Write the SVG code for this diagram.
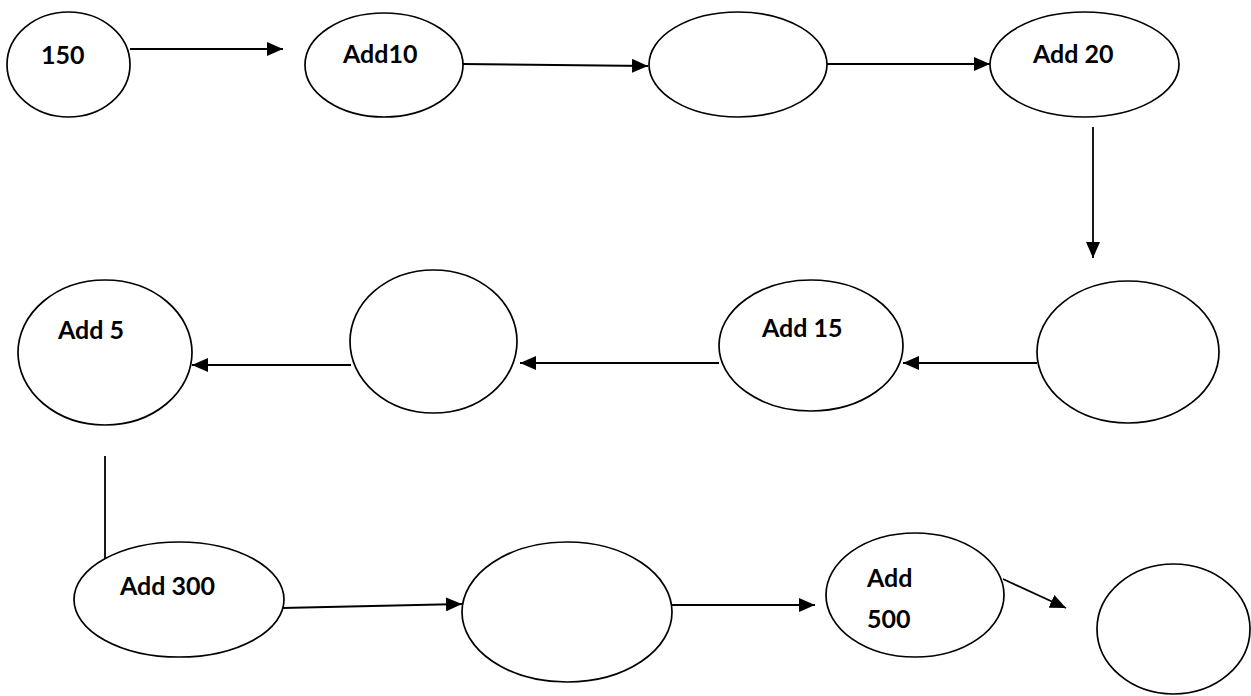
<svg xmlns="http://www.w3.org/2000/svg" width="1251" height="696" viewBox="0 0 1251 696">
<style>
.n{fill:#fff;stroke:#000;stroke-width:1.7}
.t{font-family:Lato,"Liberation Sans",sans-serif;font-weight:bold;font-size:25px;fill:#000}
.c{stroke:#000;stroke-width:1.8;fill:none}
</style>
<defs>
<marker id="ah" viewBox="0 0 16 14" refX="16" refY="7" markerWidth="16" markerHeight="14" markerUnits="userSpaceOnUse" orient="auto">
<path d="M0,0 L16,7 L0,14 Z" fill="#000"/>
</marker>
</defs>
<rect width="1251" height="696" fill="#fff"/>
<g id="connectors">
<line class="c" x1="130" y1="49" x2="283" y2="49" marker-end="url(#ah)"/>
<line class="c" x1="462" y1="64" x2="648" y2="66" marker-end="url(#ah)"/>
<line class="c" x1="827" y1="64" x2="990" y2="64" marker-end="url(#ah)"/>
<line class="c" x1="1093" y1="127" x2="1093" y2="258" marker-end="url(#ah)"/>
<line class="c" x1="1037" y1="363" x2="903" y2="363" marker-end="url(#ah)"/>
<line class="c" x1="719" y1="363" x2="520" y2="363" marker-end="url(#ah)"/>
<line class="c" x1="351" y1="365" x2="192" y2="365" marker-end="url(#ah)"/>
<line class="c" x1="105" y1="456" x2="105" y2="560"/>
<line class="c" x1="282" y1="608" x2="462" y2="604" marker-end="url(#ah)"/>
<line class="c" x1="672" y1="605" x2="815" y2="605" marker-end="url(#ah)"/>
<line class="c" x1="1003" y1="579" x2="1066" y2="608" marker-end="url(#ah)"/>
</g>
<g id="n150"><ellipse class="n" cx="68.5" cy="64.5" rx="61.5" ry="52.5"/><text class="t" x="41" y="64">150</text></g>
<g id="nAdd10"><ellipse class="n" cx="384" cy="65" rx="79" ry="52"/><text class="t" x="343" y="63">Add10</text></g>
<g id="nE1"><ellipse class="n" cx="738" cy="64.5" rx="89" ry="52.5"/></g>
<g id="nAdd20"><ellipse class="n" cx="1084.5" cy="64.5" rx="94.5" ry="52.5"/><text class="t" x="1033" y="63">Add 20</text></g>
<g id="nE2"><ellipse class="n" cx="1128" cy="352" rx="91" ry="71"/></g>
<g id="nAdd15"><ellipse class="n" cx="811" cy="345.5" rx="92" ry="65.5"/><text class="t" x="762" y="337">Add 15</text></g>
<g id="nE3"><ellipse class="n" cx="433.5" cy="341.5" rx="83.5" ry="71.5"/></g>
<g id="nAdd5"><ellipse class="n" cx="105" cy="352.5" rx="87" ry="72.5"/><text class="t" x="58" y="339">Add 5</text></g>
<g id="nAdd300"><ellipse class="n" cx="179" cy="599.5" rx="105" ry="57.5"/><text class="t" x="120" y="595">Add 300</text></g>
<g id="nE4"><ellipse class="n" cx="567" cy="612" rx="105" ry="70"/></g>
<g id="nAdd500"><ellipse class="n" cx="915" cy="595" rx="89" ry="62"/><text class="t" x="867" y="587">Add</text><text class="t" x="867" y="628">500</text></g>
<g id="nE5"><ellipse class="n" cx="1173.5" cy="629" rx="76.5" ry="65"/></g>
</svg>
